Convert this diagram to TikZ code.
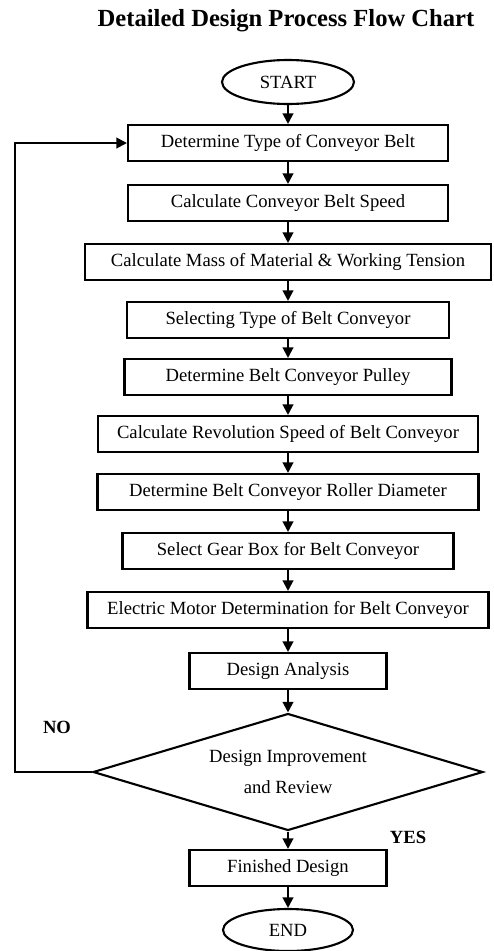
\documentclass[tikz,border=0pt]{standalone}
\usepackage{fontspec}
\setmainfont{Liberation Serif}
\usetikzlibrary{shapes.geometric,arrows.meta}

\begin{document}
\begin{tikzpicture}[x=0.02cm,y=-0.02cm,
        stepbox/.style={draw,line width=1.2pt,minimum height=0.72cm,inner sep=2pt,font=\fontsize{10.6}{12.5}\selectfont},
        term/.style={draw,ellipse,line width=1.2pt,minimum width=2.64cm,minimum height=0.88cm,font=\fontsize{10.6}{12.5}\selectfont},
        arr/.style={line width=1.2pt,-{Triangle[length=6pt,width=6pt]}}]
    \useasboundingbox (0,0) rectangle (494,951);

    \node[font=\bfseries\fontsize{14}{16}\selectfont] (title) at (286,21) {Detailed Design Process Flow Chart};
    \node[term] (start) at (288,82) {START};

    \foreach \i/\y/\w/\txt in {
            1/143/320/Determine Type of Conveyor Belt,
            2/203/320/Calculate Conveyor Belt Speed,
            3/262/406/Calculate Mass of Material \& Working Tension,
            4/320/322/Selecting Type of Belt Conveyor,
            5/377/327/Determine Belt Conveyor Pulley,
            6/434/380/Calculate Revolution Speed of Belt Conveyor,
            7/492/381/Determine Belt Conveyor Roller Diameter,
            8/551/331/Select Gear Box for Belt Conveyor,
            9/610/401/Electric Motor Determination for Belt Conveyor,
            10/671/197/Design Analysis} {
        \node[stepbox,minimum width=\w*0.02cm] (s\i) at (288,\y) {\txt};
    }

    \node[draw,diamond,line width=1.2pt,aspect=3.33,minimum width=7.8cm,minimum height=2.34cm,
          inner sep=0pt,align=center,font=\fontsize{10.6}{12.5}\selectfont] (dec) at (288,772)
        {Design Improvement\\[5pt]and Review};
    \node[stepbox,minimum width=3.94cm] (fin) at (288,868) {Finished Design};
    \node[term,minimum width=2.6cm,minimum height=0.84cm] (stop) at (288,930) {END};

    \node[font=\bfseries\fontsize{10.6}{12.5}\selectfont] (no) at (57,727) {NO};
    \node[font=\bfseries\fontsize{10.6}{12.5}\selectfont] (yes) at (408,837) {YES};

    \foreach \a/\b in {start/s1,s1/s2,s2/s3,s3/s4,s4/s5,s5/s6,s6/s7,s7/s8,s8/s9,s9/s10,s10/dec,dec/fin,fin/stop}
        \draw[arr] (\a) -- (\b);

    \draw[arr] (dec.west) -- ++(-77,0) |- (s1.west);
\end{tikzpicture}
\end{document}
